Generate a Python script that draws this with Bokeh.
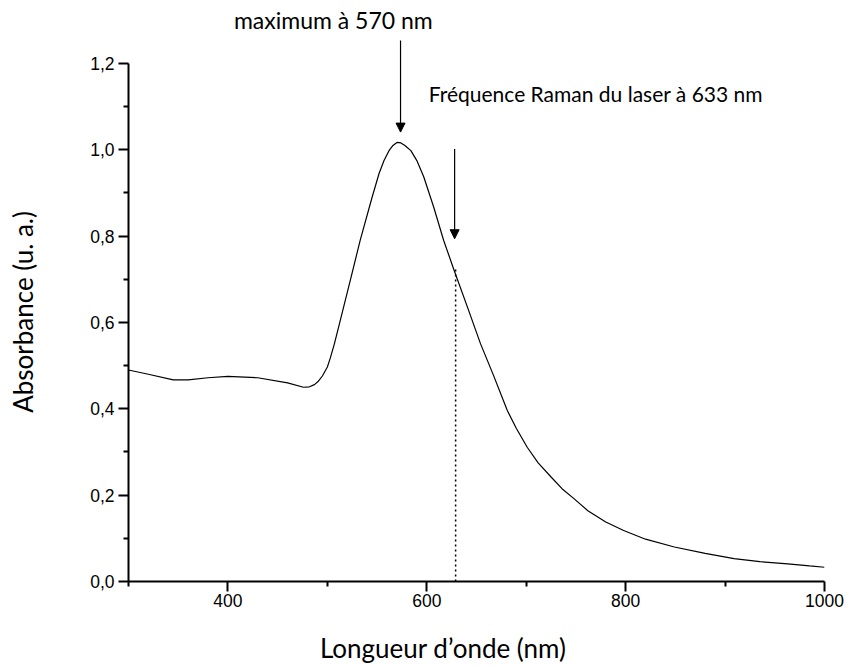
from bokeh.plotting import figure
from bokeh.models import Range1d, FixedTicker, CustomJSTickFormatter, Arrow, NormalHead, Label
from bokeh.embed import file_html
from bokeh.resources import INLINE

# Spectrum (wavelength nm, absorbance)
wavelength = [300, 320, 345, 360, 380, 400, 430, 460, 476, 482, 487, 491, 495, 500, 503, 507, 513,
              523, 533, 545, 552, 557, 562, 566, 570, 574, 578, 584, 590, 597, 607, 617, 627, 641, 654, 667,
              681, 690, 701, 712, 725, 736, 748, 762, 780, 798, 820, 849, 880, 909, 935, 963, 985, 1000]
absorbance = [0.490, 0.480, 0.467, 0.467, 0.472, 0.475, 0.472, 0.460, 0.450, 0.451, 0.456, 0.464, 0.476, 0.497, 0.518, 0.550, 0.605,
              0.697, 0.790, 0.890, 0.945, 0.975, 0.998, 1.010, 1.017, 1.016, 1.010, 0.998, 0.975, 0.937, 0.867, 0.790, 0.724, 0.635, 0.551, 0.478,
              0.396, 0.355, 0.311, 0.275, 0.242, 0.215, 0.192, 0.164, 0.138, 0.118, 0.098, 0.080, 0.065, 0.053, 0.046, 0.041, 0.036, 0.033]

x_ticks = [400, 600, 800, 1000]
x_minor = [300, 500, 700, 900]
y_ticks = [0.0, 0.2, 0.4, 0.6, 0.8, 1.0, 1.2]
y_minor = [0.1, 0.3, 0.5, 0.7, 0.9, 1.1]

laser_nm = [629]
laser_abs = [0.728]

labels = ["maximum à 570 nm", "Fréquence Raman du laser à 633 nm"]
label_x = [506, 602]
label_y = [1.30, 1.13]

arrow_x = [573.6, 628]
arrow_y_start = [1.253, 1.002]
arrow_y_end = [1.041, 0.794]

NBSP = "\u00a0"

p = figure(frame_width=696, frame_height=579, output_backend="svg", toolbar_location=None,
           x_range=Range1d(300, 1000), y_range=Range1d(0, 1.3412),
           min_border_left=128, min_border_right=22, min_border_top=2, min_border_bottom=85)
p.outline_line_color = None
p.xgrid.visible = False
p.ygrid.visible = False
p.background_fill_color = "white"
p.border_fill_color = "white"

p.line(wavelength, absorbance, line_color="black", line_width=1.2)
p.segment(x0=laser_nm, y0=[0] * len(laser_nm), x1=laser_nm, y1=laser_abs,
          line_color="black", line_width=1.5, line_dash="2 3")

p.add_layout(Label(x=label_x[0], y=label_y[0], text=labels[0], text_align="center", text_baseline="middle",
                   text_font="Lato", text_font_size="23px", text_color="black"))
p.add_layout(Label(x=label_x[1], y=label_y[1], text=labels[1], text_align="left", text_baseline="middle",
                   text_font="Lato", text_font_size="21px", text_color="black"))

for xa, ys, ye in zip(arrow_x, arrow_y_start, arrow_y_end):
    p.add_layout(Arrow(x_start=xa, y_start=ys, x_end=xa, y_end=ye, line_color="black", line_width=1.2,
                       end=NormalHead(size=9, fill_color="black", line_color="black")))

for ax in (p.xaxis[0], p.yaxis[0]):
    ax.axis_line_width = 2
    ax.major_tick_line_width = 2
    ax.minor_tick_line_width = 2
    ax.major_tick_out = 10
    ax.major_tick_in = 0
    ax.minor_tick_out = 5
    ax.minor_tick_in = 0
    ax.major_label_text_font = "Liberation Sans"
    ax.major_label_text_font_size = "17.5px"
    ax.major_label_text_color = "black"
    ax.axis_label_text_font = "Lato"
    ax.axis_label_text_font_size = "26px"
    ax.axis_label_text_font_style = "normal"
    ax.axis_label_text_color = "black"

p.xaxis[0].ticker = FixedTicker(ticks=x_ticks, minor_ticks=x_minor)
p.yaxis[0].ticker = FixedTicker(ticks=y_ticks, minor_ticks=y_minor)
p.xaxis[0].bounds = (300, 1000)
p.yaxis[0].bounds = (0, 1.2)
p.yaxis[0].formatter = CustomJSTickFormatter(code="return tick.toFixed(1).replace('.', ',');")
p.xaxis[0].major_label_standoff = 2
p.yaxis[0].major_label_standoff = 4
p.xaxis[0].axis_label = "Longueur d’onde (nm)" + NBSP * 10
p.yaxis[0].axis_label = "Absorbance (u. a.)" + NBSP * 6
p.xaxis[0].axis_label_standoff = 22
p.yaxis[0].axis_label_standoff = 48

open("out.html", "w").write(file_html(p, INLINE))
